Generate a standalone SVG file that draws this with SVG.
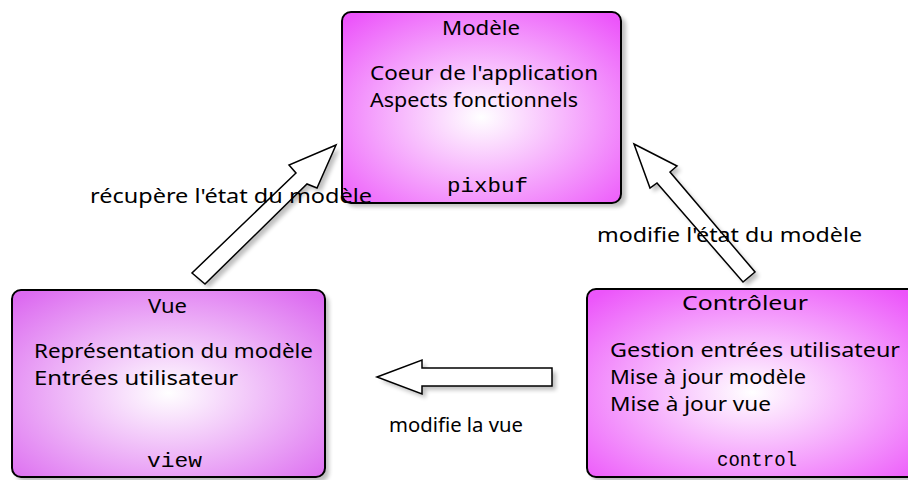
<svg xmlns="http://www.w3.org/2000/svg" width="908" height="480" viewBox="0 0 908 480">
<style>
.box{stroke:#000;stroke-width:2}
.t{font-family:"Noto Sans","DejaVu Sans",sans-serif;font-size:19px;fill:#000}
.m{font-family:"Liberation Mono","DejaVu Sans Mono",monospace;font-size:20px;fill:#000}
.arr{fill:#fff;stroke:#000;stroke-width:1.5;stroke-linejoin:miter}
.sh{fill:#000;opacity:0.25}
</style>
<defs>
<radialGradient id="g" cx="0.5" cy="0.55" r="0.7">
<stop offset="0" stop-color="#ffffff"/>
<stop offset="1" stop-color="#ec55fa"/>
</radialGradient>
<radialGradient id="gv" cx="0.5" cy="0.55" r="0.7">
<stop offset="0" stop-color="#ffffff"/>
<stop offset="1" stop-color="#dc6af0"/>
</radialGradient>
<filter id="blur" x="-10%" y="-10%" width="130%" height="130%"><feGaussianBlur stdDeviation="2"/></filter>
</defs>
<g id="modele">
<rect class="sh" filter="url(#blur)" x="346" y="16" width="280" height="191" rx="9"/>
<rect class="box" x="342" y="12" width="279" height="191" rx="9" fill="url(#g)"/>
<text class="t" x="442" y="35" textLength="78" lengthAdjust="spacingAndGlyphs">Modèle</text>
<text class="t" x="370" y="80" textLength="228" lengthAdjust="spacingAndGlyphs">Coeur de l'application</text>
<text class="t" x="370" y="107" textLength="208" lengthAdjust="spacingAndGlyphs">Aspects fonctionnels</text>
<text class="m" x="447" y="192" textLength="81" lengthAdjust="spacingAndGlyphs">pixbuf</text>
</g>
<g id="vue">
<rect class="sh" filter="url(#blur)" x="16" y="294" width="313" height="188" rx="9"/>
<rect class="box" x="12" y="290" width="313" height="187" rx="9" fill="url(#gv)"/>
<text class="t" x="148" y="313" textLength="39" lengthAdjust="spacingAndGlyphs">Vue</text>
<text class="t" x="34" y="358" textLength="279" lengthAdjust="spacingAndGlyphs">Représentation du modèle</text>
<text class="t" x="34" y="385" textLength="204" lengthAdjust="spacingAndGlyphs">Entrées utilisateur</text>
<text class="m" x="147" y="467" textLength="55" lengthAdjust="spacingAndGlyphs">view</text>
</g>
<g id="controleur">
<rect class="sh" filter="url(#blur)" x="591" y="293" width="330" height="189" rx="9"/>
<rect class="box" x="587" y="289" width="330" height="188" rx="9" fill="url(#g)"/>
<text class="t" x="682" y="310" textLength="126" lengthAdjust="spacingAndGlyphs">Contrôleur</text>
<text class="t" x="610" y="357" textLength="290" lengthAdjust="spacingAndGlyphs">Gestion entrées utilisateur</text>
<text class="t" x="610" y="384" textLength="196" lengthAdjust="spacingAndGlyphs">Mise à jour modèle</text>
<text class="t" x="610" y="411" textLength="161" lengthAdjust="spacingAndGlyphs">Mise à jour vue</text>
<text class="m" x="717" y="466" textLength="80" lengthAdjust="spacingAndGlyphs">control</text>
</g>
<g id="connectors">
<g id="c1">
<polygon class="sh" filter="url(#blur)" transform="translate(4,4)" points="336,145 317,188 307,184 205,284 192,273 296,173 289,165"/>
<polygon class="arr" points="336,145 317,188 307,184 205,284 192,273 296,173 289,165"/>
</g>
<g id="c2">
<polygon class="sh" filter="url(#blur)" transform="translate(4,4)" points="634,144 677,166 670,172 755,272 743,282 657,183 650,188"/>
<polygon class="arr" points="634,144 677,166 670,172 755,272 743,282 657,183 650,188"/>
</g>
<g id="c3">
<polygon class="sh" filter="url(#blur)" transform="translate(4,4)" points="377,377 422,360 422,368 552,368 552,386 422,386 422,394"/>
<polygon class="arr" points="377,377 422,360 422,368 552,368 552,386 422,386 422,394"/>
</g>
<text class="t" x="90" y="203" textLength="282" lengthAdjust="spacingAndGlyphs">récupère l'état du modèle</text>
<text class="t" x="597" y="242" textLength="265" lengthAdjust="spacingAndGlyphs">modifie l'état du modèle</text>
<text class="t" x="389" y="432" textLength="134" lengthAdjust="spacingAndGlyphs">modifie la vue</text>
</g>
</svg>
